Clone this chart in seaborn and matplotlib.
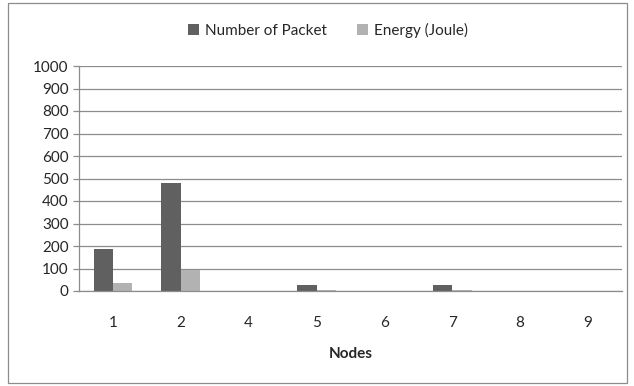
import pandas as pd
import matplotlib.pyplot as plt
import seaborn as sns

# ── data ──────────────────────────────────────────────────────────────────────
nodes   = ['1', '2', '4', '5', '6', '7', '8', '9']
packets = [185, 480, 0, 27, 0, 27, 0, 0]
energy  = [35, 92, 0, 4, 0, 4, 0, 0]
series  = ['Number of Packet', 'Energy (Joule)']

df = pd.DataFrame({
    'Nodes' : nodes * 2,
    'value' : packets + energy,
    'series': [series[0]] * len(nodes) + [series[1]] * len(nodes),
})

sns.set_style('white')
plt.rcParams['font.family'] = ['Lato', 'DejaVu Sans']

fig = plt.figure(figsize=(6.34, 3.86), dpi=100)
ax = fig.add_axes([79 / 634, 1 - 291 / 386, 543 / 634, 225 / 386])

sns.barplot(data=df, x='Nodes', y='value', hue='series', order=nodes,
            palette=['#606060', '#b2b2b2'], width=0.57, ax=ax,
            saturation=1, edgecolor='none')

ax.set_ylim(0, 1000)
ax.set_yticks(range(0, 1001, 100))
ax.set_xlim(-0.5, len(nodes) - 0.5)
ax.yaxis.grid(True, color='#8c8c8c', linewidth=0.9)
ax.set_axisbelow(True)
for s in ['top', 'right']:
    ax.spines[s].set_visible(False)
for s in ['left', 'bottom']:
    ax.spines[s].set_color('#8c8c8c')
    ax.spines[s].set_linewidth(0.9)

# category boundary ticks as in the original
ax.set_xticks([i - 0.5 for i in range(len(nodes) + 1)], minor=True)
ax.tick_params(axis='x', which='minor', length=4, color='#8c8c8c', width=0.9)
ax.tick_params(axis='x', which='major', length=0, labelsize=11, pad=18)
ax.tick_params(axis='y', length=4.5, color='#8c8c8c', width=0.9,
               labelsize=11, pad=3, left=True)
ax.set_xlabel('Nodes', fontsize=11, fontweight='bold', labelpad=12)
ax.set_ylabel('')

ax.get_legend().remove()
handles, labels = ax.get_legend_handles_labels()
fig.legend(handles, labels, loc='center', bbox_to_anchor=(328 / 634, 1 - 30 / 386),
           ncol=2, frameon=False, fontsize=11, handlelength=0.7,
           handleheight=0.7, columnspacing=2.0, handletextpad=0.4)

fig.patches.append(plt.Rectangle((8 / 634, 3 / 386), 619 / 634, 380 / 386,
                                 transform=fig.transFigure, fill=False,
                                 edgecolor='#8c8c8c', linewidth=0.9))

plt.savefig('out.png', dpi=100)
